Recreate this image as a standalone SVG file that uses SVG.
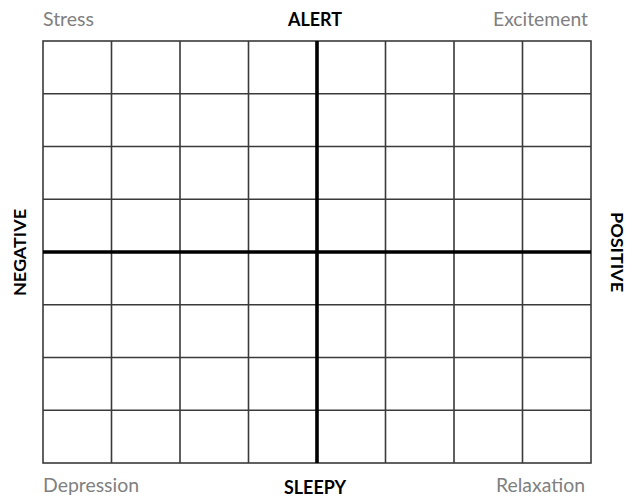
<svg xmlns="http://www.w3.org/2000/svg" width="627" height="498" viewBox="0 0 627 498">
<style>
.g{font-family:"Lato","Liberation Sans",sans-serif;font-size:18.5px;fill:#808080}
.b{font-family:"Lato","Liberation Sans",sans-serif;font-size:19px;font-weight:bold;fill:#000}
.v{font-size:17.5px}
.thin{stroke:#3a3a3a;stroke-width:1.6;fill:none}
.thick{stroke:#000;stroke-width:3.6;fill:none}
</style>
<rect width="627" height="498" fill="#fff"/>
<g id="grid">
<rect class="thin" x="43" y="41" width="548" height="422"/>
<path class="thin" d="M111.5 41V463M180 41V463M248.5 41V463M385.5 41V463M454 41V463M522.5 41V463M43 93.75H591M43 146.5H591M43 199.25H591M43 304.75H591M43 357.5H591M43 410.25H591"/>
</g>
<g id="axes">
<path class="thick" d="M317 41V463M43 252H591"/>
</g>
<g id="labels">
<text class="g" x="43" y="26" textLength="51" lengthAdjust="spacingAndGlyphs">Stress</text>
<text class="g" x="493" y="26" textLength="95" lengthAdjust="spacingAndGlyphs">Excitement</text>
<text class="b" x="288" y="26" textLength="54" lengthAdjust="spacingAndGlyphs">ALERT</text>
<text class="g" x="43" y="492" textLength="96" lengthAdjust="spacingAndGlyphs">Depression</text>
<text class="g" x="496" y="492" textLength="89" lengthAdjust="spacingAndGlyphs">Relaxation</text>
<text class="b" x="284" y="494" textLength="62" lengthAdjust="spacingAndGlyphs">SLEEPY</text>
<text class="b v" transform="translate(25.5 296) rotate(-90)" x="0" y="0" textLength="87" lengthAdjust="spacingAndGlyphs">NEGATIVE</text>
<text class="b v" transform="translate(610.5 212) rotate(90)" x="0" y="0" textLength="80" lengthAdjust="spacingAndGlyphs">POSITIVE</text>
</g>
</svg>
